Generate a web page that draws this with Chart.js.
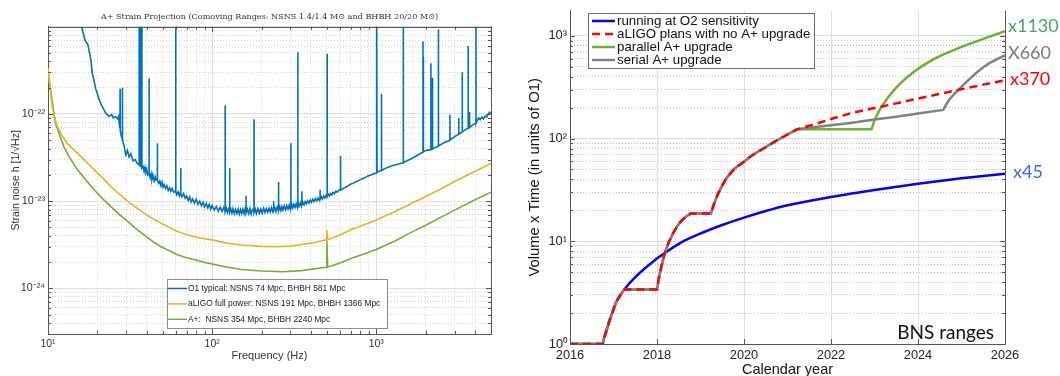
<!DOCTYPE html>
<html>
<head>
<meta charset="utf-8">
<script src="https://cdn.jsdelivr.net/npm/chart.js@4.4.1/dist/chart.umd.min.js"></script>
<style>
  html, body { margin: 0; padding: 0; background: #fff; overflow: hidden; width: 1060px; height: 376px; }
  .wrap { position: absolute; top: 0; }
</style>
</head>
<body>
<div class="wrap" style="left:0"><canvas id="strain" width="510" height="376"></canvas></div>
<div class="wrap" style="left:520px"><canvas id="volume" width="540" height="384"></canvas></div>
<script>
// ---------- left panel: strain noise curves ----------
const strainTitle = 'A+ Strain Projection (Comoving Ranges: NSNS 1.4/1.4 M\u2299 and BHBH 20/20 M\u2299)';
const strainLabels = ['O1 typical: NSNS 74 Mpc, BHBH 581 Mpc',
                      'aLIGO full power: NSNS 191 Mpc, BHBH 1366 Mpc',
                      'A+:  NSNS 354 Mpc, BHBH 2240 Mpc'];

const o1Freq = [
  15.4, 16.0, 16.8, 17.5, 18.0, 18.3, 18.6, 19.0, 19.5, 20.0,
  20.4, 21.0, 21.9, 22.5, 23.5, 24.5, 25.0, 25.8, 26.5, 27.0,
  27.2, 27.45, 27.5, 27.55, 28.0, 28.35, 28.4, 28.45, 29.0, 29.8,
  30.5, 31.2, 32.0, 33.0, 34.0, 35.0, 35.85, 35.9, 35.95, 36.45,
  36.5, 36.55, 37.25, 37.3, 37.35, 38.0, 38.5, 39.0, 39.5, 40.0,
  40.5, 41.25, 41.3, 41.35, 42.0, 42.5, 43.0, 43.5, 44.3, 45.0,
  45.5, 46.35, 46.4, 46.45, 47.2, 48, 48.8, 49.5, 50.3, 51,
  52, 53, 54, 55, 56, 57, 58.3, 59.9, 60, 60.1,
  61, 62, 63.2, 64.35, 64.4, 64.45, 65.5, 67, 68.5, 70,
  71.5, 73, 74.5, 76, 78, 80, 82, 84, 86, 88,
  90, 92, 94, 96, 98, 100, 103, 106, 109, 112,
  115, 117.5, 119.85, 120, 120.15, 122, 124, 126, 127.9, 128,
  128.1, 130, 132, 134, 136.5, 139, 141.5, 144, 146.5, 149,
  151.5, 154, 156.5, 159, 160.9, 161, 161.1, 164, 167, 170,
  173, 176, 179.85, 180, 180.15, 183, 186, 190, 194, 198,
  202, 206, 210, 214, 218, 222, 226, 230, 234, 236.9,
  237, 237.1, 241, 245, 249, 253.8, 254, 254.2, 258, 262,
  266, 270, 275, 280, 285, 290, 295, 299, 301.8, 302,
  302.2, 306, 310, 315, 320, 325, 329, 332.8, 333, 333.2,
  337, 342, 347, 351.8, 352, 352.2, 357, 363, 369, 375,
  382, 389, 396, 403, 410, 418, 426, 434, 442, 449,
  454.8, 455, 455.2, 462, 470, 478, 486, 494, 501.6, 502,
  502.4, 510, 518, 527, 536, 546, 556, 567, 578, 590,
  605.7, 606, 606.3, 620, 640, 665, 692, 720, 750, 780,
  815, 850, 890, 930, 970, 999, 1000, 1001, 1009, 1010,
  1011, 1040, 1075, 1076, 1077, 1150, 1250, 1350, 1455, 1458,
  1462, 1465, 1600, 1750, 1923, 1926, 1929, 1934, 1936, 1938,
  2050, 2147, 2150, 2153, 2197, 2200, 2203, 2387, 2390, 2393,
  2600, 2808, 2810, 2812, 3000, 3180, 3182, 3184, 3337, 3340,
  3343, 3500, 3627, 3630, 3633, 3697, 3700, 3703, 3900, 4047,
  4050, 4053, 4200, 4300, 4400, 4500, 4600, 4700, 4800, 4900,
  5000];
const o1Strain = [
  1.3e-21, 1.0e-21, 7.0e-22, 6.2e-22, 4.8e-22, 4.0e-22, 2.9e-22, 2.5e-22, 1.95e-22, 1.7e-22,
  1.5e-22, 1.3e-22, 1.12e-22, 1.02e-22, 9.4e-23, 9.8e-23, 9.0e-23, 9.3e-23, 8.8e-23, 9.5e-23,
  7.5e-23, 7.0e-23, 1.95e-22, 6.5e-23, 5.5e-23, 5.2e-23, 2.0e-22, 5.0e-23, 4.4e-23, 3.4e-23,
  3.8e-23, 3.2e-23, 3.5e-23, 2.9e-23, 3.0e-23, 2.7e-23, 2.6e-23, 3e-21, 2.6e-23, 2.6e-23,
  3e-21, 2.5e-23, 2.5e-23, 3e-21, 2.4e-23, 2.5e-23, 2.2e-23, 2.45e-23, 2.15e-23, 2.3e-23,
  2.0e-23, 2.1e-23, 2.57e-22, 2.1e-23, 1.85e-23, 2.05e-23, 1.8e-23, 2.0e-23, 1.7e-23, 1.9e-23,
  1.75e-23, 1.8e-23, 4.6e-23, 1.75e-23, 1.6e-23, 1.7e-23, 1.5e-23, 1.65e-23, 1.45e-23, 1.55e-23,
  1.4e-23, 1.5e-23, 1.33e-23, 1.42e-23, 1.3e-23, 1.4e-23, 1.27e-23, 1.3e-23, 3e-21, 1.28e-23,
  1.2e-23, 1.28e-23, 1.15e-23, 1.3e-23, 2.4e-23, 1.2e-23, 1.12e-23, 1.22e-23, 1.08e-23, 1.15e-23,
  1.02e-23, 1.12e-23, 9.8e-24, 1.06e-23, 9.5e-24, 1.05e-23, 9.2e-24, 1.0e-23, 8.9e-24, 9.7e-24,
  8.6e-24, 9.4e-24, 8.4e-24, 9.2e-24, 8.1e-24, 8.9e-24, 7.9e-24, 8.7e-24, 7.7e-24, 8.5e-24,
  7.6e-24, 8.4e-24, 7.8e-24, 1.26e-22, 7.6e-24, 8.3e-24, 7.4e-24, 8.2e-24, 7.8e-24, 2.4e-23,
  7.5e-24, 8.1e-24, 7.3e-24, 8.2e-24, 7.2e-24, 8.0e-24, 7.2e-24, 8.1e-24, 7.1e-24, 8.0e-24,
  7.2e-24, 8.1e-24, 7.2e-24, 8.2e-24, 7.6e-24, 1.15e-23, 7.3e-24, 8.1e-24, 7.2e-24, 8.2e-24,
  7.1e-24, 8.0e-24, 7.6e-24, 8.7e-23, 7.4e-24, 8.1e-24, 7.2e-24, 8.2e-24, 7.3e-24, 8.1e-24,
  7.3e-24, 8.3e-24, 7.4e-24, 8.2e-24, 7.5e-24, 8.3e-24, 7.5e-24, 8.4e-24, 7.6e-24, 8.0e-24,
  1.0e-23, 7.8e-24, 8.4e-24, 7.6e-24, 8.5e-24, 7.8e-24, 1.66e-23, 7.8e-24, 8.6e-24, 7.8e-24,
  8.7e-24, 7.9e-24, 8.8e-24, 8.0e-24, 8.9e-24, 8.1e-24, 9.0e-24, 8.2e-24, 8.4e-24, 4.6e-23,
  8.3e-24, 9.1e-24, 8.4e-24, 9.2e-24, 8.5e-24, 9.3e-24, 8.6e-24, 8.8e-24, 5.1e-22, 8.7e-24,
  9.4e-24, 8.8e-24, 9.6e-24, 9.0e-24, 1.3e-23, 9.0e-24, 9.7e-24, 9.1e-24, 9.9e-24, 9.3e-24,
  1.01e-23, 9.5e-24, 1.03e-23, 9.7e-24, 1.05e-23, 9.9e-24, 1.07e-23, 1.01e-23, 1.09e-23, 1.03e-23,
  1.06e-23, 1.35e-23, 1.05e-23, 1.12e-23, 1.06e-23, 1.14e-23, 1.09e-23, 1.16e-23, 1.12e-23, 4.9e-22,
  1.13e-23, 1.2e-23, 1.15e-23, 1.22e-23, 1.18e-23, 1.26e-23, 1.22e-23, 1.3e-23, 1.27e-23, 1.34e-23,
  1.33e-23, 3.3e-23, 1.35e-23, 1.38e-23, 1.42e-23, 1.48e-23, 1.55e-23, 1.6e-23, 1.67e-23, 1.72e-23,
  1.8e-23, 1.85e-23, 1.95e-23, 2.0e-23, 2.07e-23, 2.1e-23, 3e-21, 2.12e-23, 2.15e-23, 3e-21,
  2.15e-23, 2.2e-23, 2.25e-23, 1.7e-22, 2.25e-23, 2.4e-23, 2.55e-23, 2.65e-23, 2.75e-23, 3e-21,
  3e-21, 2.78e-23, 3.0e-23, 3.3e-23, 3.65e-23, 6.8e-22, 3.7e-23, 3.7e-23, 4.5e-22, 3.7e-23,
  3.85e-23, 3.9e-23, 3.8e-22, 3.9e-23, 3.95e-23, 2.6e-22, 4.0e-23, 4.25e-23, 9.3e-22, 4.3e-23,
  4.7e-23, 5.0e-23, 9.8e-23, 5.0e-23, 5.5e-23, 5.85e-23, 9.0e-23, 5.9e-23, 6.2e-23, 3.0e-22,
  6.2e-23, 6.6e-23, 6.9e-23, 6.0e-22, 6.9e-23, 7.0e-23, 1.05e-22, 7.0e-23, 7.6e-23, 7.8e-23,
  3e-21, 7.8e-23, 9.0e-23, 8.6e-23, 9.2e-23, 8.8e-23, 9.5e-23, 9.2e-23, 9.8e-23, 1.05e-22,
  1.02e-22];

const aligoFreq = [10, 10.3, 10.6, 11.0, 11.4, 12.2, 13.1, 15.1, 17, 19.1, 21.5, 24.1, 27, 30.5, 34, 38.5, 43, 48.7, 55, 61.4,
  70, 77.6, 90, 100, 118, 150, 200, 240, 300, 400, 495, 500, 505, 600, 700, 850, 1000, 1300, 1600, 2000, 2500, 3000, 4000, 5000];
const aligoStrain = [3.33e-22, 2.0e-22, 1.2e-22, 9.0e-23, 7.2e-23, 5.6e-23, 4.6e-23, 3.55e-23, 2.85e-23, 2.3e-23, 1.85e-23, 1.48e-23, 1.22e-23, 1.0e-23, 8.6e-24, 7.3e-24, 6.4e-24, 5.6e-24, 5.0e-24, 4.5e-24,
  4.15e-24, 3.9e-24, 3.7e-24, 3.6e-24, 3.35e-24, 3.15e-24, 3.03e-24, 3.0e-24, 3.05e-24, 3.3e-24, 3.6e-24, 4.7e-24, 3.6e-24, 4.1e-24, 4.7e-24, 5.4e-24, 6.1e-24, 7.6e-24, 9.2e-24, 1.13e-23, 1.4e-23, 1.68e-23, 2.2e-23, 2.7e-23];

const aplusFreq = [10, 10.25, 10.5, 11.1, 12.5, 13.5, 15.1, 17, 19.1, 21.5, 24.1, 27, 30.5, 34, 38.5, 43, 48.7, 55, 61.4, 70,
  77.6, 90, 100, 118, 150, 200, 270, 350, 495, 500, 505, 600, 700, 850, 1000, 1300, 1600, 2000, 2500, 3000, 4000, 5000];
const aplusStrain = [3.33e-22, 2.2e-22, 1.58e-22, 7.8e-23, 4.2e-23, 3.2e-23, 2.3e-23, 1.75e-23, 1.35e-23, 1.07e-23, 8.7e-24, 7.1e-24, 5.9e-24, 4.9e-24, 4.1e-24, 3.5e-24, 3.0e-24, 2.7e-24, 2.43e-24, 2.25e-24,
  2.14e-24, 1.98e-24, 1.9e-24, 1.78e-24, 1.65e-24, 1.58e-24, 1.55e-24, 1.6e-24, 1.75e-24, 3.5e-24, 1.75e-24, 1.95e-24, 2.2e-24, 2.5e-24, 2.8e-24, 3.5e-24, 4.3e-24, 5.3e-24, 6.6e-24, 7.9e-24, 1.04e-23, 1.27e-23];

// ---------- right panel: accumulated volume x time ----------
const upgradeLabels = ['running at O2 sensitivity', 'aLIGO plans with no A+ upgrade', 'parallel A+ upgrade', 'serial A+ upgrade'];
const endLabels = ['x45', 'x370', 'x1130', 'X660'];

const o2Years = [2016, 2016.75, 2016.79, 2016.84, 2016.9, 2016.96, 2017.07, 2017.16, 2017.25, 2017.53, 2017.92, 2018.22, 2018.57,
  2019, 2019.5, 2020, 2020.5, 2021, 2022, 2023, 2024, 2025, 2026];
const o2Values = [1, 1, 1.17, 1.36, 1.65, 1.95, 2.6, 3.0, 3.4, 4.6, 6.4, 7.9, 9.8,
  11.9, 14.4, 17, 19.7, 22.4, 27, 31.6, 36.3, 41, 45.5];

// common history up to mid 2021 (shared by the three plan curves)
const planYears = [2016, 2016.75, 2016.79, 2016.84, 2016.9, 2016.96, 2017.07, 2017.16, 2017.25, 2018.0, 2018.04, 2018.09, 2018.15,
  2018.21, 2018.29, 2018.37, 2018.47, 2018.57, 2018.67, 2018.77, 2019.24, 2019.3, 2019.4, 2019.5, 2019.6, 2019.79, 2020.0,
  2020.15, 2020.31, 2020.47, 2020.62, 2020.78, 2020.94, 2021.08, 2021.22];
const planValues = [1, 1, 1.17, 1.36, 1.65, 1.95, 2.6, 3.0, 3.4, 3.4, 4.3, 5.4, 6.9,
  8.4, 10.2, 12, 14.1, 16, 17.4, 18.6, 18.6, 22.5, 28.8, 35, 41.4, 51.4, 59.5,
  67, 74, 81, 88.7, 97, 106, 114.5, 123];

const noUpgradeYears = [2021.6, 2022, 2022.44, 2023, 2023.5, 2024, 2024.5, 2025, 2025.5, 2026];
const noUpgradeValues = [137, 155, 176, 198, 220, 245, 272, 302, 335, 370];

const parallelYears = [2022.93, 2023.0, 2023.1, 2023.2, 2023.3, 2023.4, 2023.5, 2023.6, 2023.75, 2023.9,
  2024.1, 2024.35, 2024.6, 2024.9, 2025.2, 2025.5, 2025.75, 2026];
const parallelValues = [123, 150, 185, 215, 248, 280, 313, 347, 395, 445,
  510, 590, 665, 750, 840, 935, 1020, 1110];

const serialYears = [2022, 2022.44, 2023, 2023.5, 2024, 2024.58, 2024.64, 2024.72, 2024.82, 2024.97,
  2025.15, 2025.35, 2025.5, 2025.66, 2025.83, 2026];
const serialValues = [135, 142, 153, 163, 175, 190, 212, 240, 268, 310,
  368, 440, 495, 548, 598, 645];

// ---------- helpers ----------
const SUP = {'-': '\u207B', '0': '\u2070', '1': '\u00B9', '2': '\u00B2', '3': '\u00B3', '4': '\u2074',
             '5': '\u2075', '6': '\u2076', '7': '\u2077', '8': '\u2078', '9': '\u2079'};
function pow10Label(v) {
  const e = String(Math.round(Math.log10(v)));
  return '10' + e.split('').map(c => SUP[c]).join('');
}
function pts(xs, ys) { return xs.map((x, i) => ({x: x, y: ys[i]})); }
function logTicks(min, max) {
  const out = [];
  for (let e = Math.floor(Math.log10(min)); e <= Math.ceil(Math.log10(max)); e++) {
    for (let m = 1; m <= 9; m++) {
      const v = m * Math.pow(10, e);
      if (v >= min * 0.999 && v <= max * 1.001) out.push({value: v, major: m === 1});
    }
  }
  return out;
}
const isMinor = c => c.tick && c.tick.major === false;

Chart.defaults.font.family = '"Liberation Sans", Arial, Helvetica, sans-serif';
Chart.defaults.color = '#262626';

// inner tick marks + closing box lines (matlab style)
const frame = {
  id: 'frame',
  afterDatasetsDraw(chart, args, o) {
    const {ctx, chartArea: a, scales: {x, y}} = chart;
    ctx.save();
    ctx.strokeStyle = o.color;
    ctx.lineWidth = 1;
    ctx.beginPath();
    x.ticks.forEach(t => {
      const p = Math.round(x.getPixelForValue(t.value)) + 0.5;
      const len = t.major === false ? o.minor : o.major;
      ctx.moveTo(p, a.bottom); ctx.lineTo(p, a.bottom - len);
      if (o.top) { ctx.moveTo(p, a.top); ctx.lineTo(p, a.top + len); }
    });
    y.ticks.forEach(t => {
      const p = Math.round(y.getPixelForValue(t.value)) + 0.5;
      const len = t.major === false ? o.minor : o.major;
      ctx.moveTo(a.left, p); ctx.lineTo(a.left + len, p);
      ctx.moveTo(a.right, p); ctx.lineTo(a.right - len, p);
    });
    ctx.moveTo(Math.round(a.right) + 0.5, a.top); ctx.lineTo(Math.round(a.right) + 0.5, a.bottom);
    if (o.top) { ctx.moveTo(a.left, Math.round(a.top) + 0.5); ctx.lineTo(a.right, Math.round(a.top) + 0.5); }
    ctx.stroke();
    ctx.restore();
  }
};

const strainLegend = {
  id: 'strainLegend',
  afterDraw(chart) {
    const {ctx, chartArea: a} = chart;
    const x0 = Math.round(a.left + 119), y0 = Math.round(a.bottom - 55), w = 220, h = 49;
    ctx.save();
    ctx.fillStyle = '#fff';
    ctx.fillRect(x0, y0, w, h);
    ctx.strokeStyle = '#8c8c8c';
    ctx.lineWidth = 1;
    ctx.strokeRect(x0 + 0.5, y0 + 0.5, w, h);
    ctx.font = '8.4px "Liberation Sans", Arial, sans-serif';
    ctx.textBaseline = 'middle';
    chart.data.datasets.forEach((d, i) => {
      const yy = y0 + 9.5 + i * 15.4;
      ctx.strokeStyle = d.borderColor;
      ctx.lineWidth = 1.5;
      ctx.beginPath(); ctx.moveTo(x0 + 1, yy); ctx.lineTo(x0 + 20, yy); ctx.stroke();
      ctx.fillStyle = '#1a1a1a';
      ctx.fillText(d.label, x0 + 21, yy);
    });
    ctx.restore();
  }
};

new Chart(document.getElementById('strain'), {
  type: 'line',
  data: {
    datasets: [
      {label: strainLabels[0], data: pts(o1Freq, o1Strain), borderColor: '#0072bd', borderWidth: 1.6},
      {label: strainLabels[1], data: pts(aligoFreq, aligoStrain), borderColor: '#edb120', borderWidth: 1.6},
      {label: strainLabels[2], data: pts(aplusFreq, aplusStrain), borderColor: '#77ac30', borderWidth: 1.6}
    ]
  },
  options: {
    responsive: false,
    animation: false,
    layout: {padding: {right: 19}},
    elements: {point: {radius: 0}, line: {tension: 0}},
    plugins: {
      legend: {display: false},
      tooltip: {enabled: false},
      title: {display: true, text: strainTitle, fullSize: false, color: '#333',
              font: {family: '"DejaVu Serif", "Liberation Serif", serif', size: 8.1, weight: 'normal'},
              padding: {top: 12, bottom: 5}},
      frame: {color: '#555', major: 5, minor: 3, top: true}
    },
    scales: {
      x: {
        type: 'logarithmic', min: 10, max: 5000,
        afterBuildTicks: s => { s.ticks = logTicks(10, 5000); },
        afterFit: s => { s.height = 42; },
        ticks: {autoSkip: false, maxRotation: 0, padding: 4, font: {size: 10.5}, color: '#333',
                callback: (v, i, t) => t[i].major ? pow10Label(v) : ''},
        grid: {drawTicks: false, lineWidth: 1, color: c => isMinor(c) ? '#cfcfcf' : '#dedede'},
        border: {color: '#555', dash: c => isMinor(c) ? [1, 2] : []},
        title: {display: true, text: 'Frequency (Hz)', font: {size: 11}, color: '#333', padding: {bottom: 13}}
      },
      y: {
        type: 'logarithmic', min: 3e-25, max: 1e-21,
        afterBuildTicks: s => { s.ticks = logTicks(3e-25, 1e-21); },
        afterFit: s => { s.width = 48; },
        ticks: {autoSkip: false, padding: 3, font: {size: 10.8}, color: '#333',
                callback: (v, i, t) => (t[i].major && i < t.length - 1) ? pow10Label(v) : ''},
        grid: {drawTicks: false, lineWidth: 1, color: c => isMinor(c) ? '#cfcfcf' : '#dedede'},
        border: {color: '#555', dash: c => isMinor(c) ? [1, 2] : []},
        title: {display: true, text: 'Strain noise h [1/\u221AHz]', font: {size: 10.5}, color: '#333', padding: {top: 10}}
      }
    }
  },
  plugins: [frame, strainLegend]
});

// ---------- right panel ----------
const endLabelColors = ['#3a66ff', '#ff0000', '#43a866', '#7a7a7a'];
const endLabelShift = [[8, -2], [5, -1], [3, -5], [3, -2]];

const volumeLegend = {
  id: 'volumeLegend',
  afterDraw(chart) {
    const {ctx, chartArea: a} = chart;
    const x0 = Math.round(a.left + 18), y0 = 13, w = 226, h = 55;
    ctx.save();
    ctx.fillStyle = '#fff';
    ctx.fillRect(x0, y0, w, h);
    ctx.strokeStyle = '#666';
    ctx.lineWidth = 1;
    ctx.strokeRect(x0 + 0.5, y0 + 0.5, w, h);
    ctx.font = '13.3px "Liberation Sans", Arial, sans-serif';
    ctx.textBaseline = 'middle';
    upgradeLabels.forEach((lab, i) => {
      const d = chart.data.datasets[i];
      const yy = y0 + 8 + i * 13;
      ctx.strokeStyle = d.borderColor;
      ctx.lineWidth = d.borderWidth;
      ctx.setLineDash(d.borderDash || []);
      ctx.beginPath(); ctx.moveTo(x0 + 4, yy); ctx.lineTo(x0 + 27, yy); ctx.stroke();
      ctx.setLineDash([]);
      ctx.fillStyle = '#111';
      ctx.fillText(lab, x0 + 29, yy);
    });
    ctx.restore();
  }
};

const endNotes = {
  id: 'endNotes',
  afterDraw(chart) {
    const {ctx, chartArea: a, scales: {y}} = chart;
    ctx.save();
    ctx.textBaseline = 'middle';
    ctx.font = '18px Lato, "Open Sans", sans-serif';
    chart.data.datasets.forEach((d, i) => {
      const last = d.data[d.data.length - 1];
      ctx.fillStyle = endLabelColors[i];
      ctx.fillText(endLabels[i], a.right + endLabelShift[i][0], y.getPixelForValue(last.y) + endLabelShift[i][1]);
    });
    ctx.font = '19px Lato, "Open Sans", sans-serif';
    ctx.fillStyle = '#111';
    ctx.textAlign = 'right';
    ctx.fillText('BNS ranges', a.right - 11, a.bottom - 11);
    ctx.restore();
  }
};

new Chart(document.getElementById('volume'), {
  type: 'line',
  data: {
    datasets: [
      {label: upgradeLabels[0], data: pts(o2Years, o2Values), borderColor: '#0000ff', borderWidth: 2.5,
       cubicInterpolationMode: 'monotone', order: 4},
      {label: upgradeLabels[1], data: pts(planYears.concat(noUpgradeYears), planValues.concat(noUpgradeValues)),
       borderColor: '#ff0000', borderWidth: 2.5, borderDash: [8, 5], order: 1},
      {label: upgradeLabels[2], data: pts(planYears.concat(parallelYears), planValues.concat(parallelValues)),
       borderColor: '#6ab42d', borderWidth: 2.5, order: 3},
      {label: upgradeLabels[3], data: pts(planYears.concat(serialYears), planValues.concat(serialValues)),
       borderColor: '#808080', borderWidth: 2.5, order: 2}
    ]
  },
  options: {
    responsive: false,
    animation: false,
    layout: {padding: {right: 55}},
    elements: {point: {radius: 0}, line: {tension: 0}},
    plugins: {
      legend: {display: false},
      tooltip: {enabled: false},
      frame: {color: '#555', major: 5, minor: 3, top: false}
    },
    scales: {
      x: {
        type: 'linear', min: 2016, max: 2026,
        ticks: {stepSize: 2, padding: 4, font: {size: 12.8}, color: '#222', maxRotation: 0, callback: v => String(v)},
        afterFit: s => { s.height = 40; },
        grid: {drawTicks: false, color: '#e0e0e0'},
        border: {color: '#555'},
        title: {display: true, text: 'Calendar year', font: {size: 14.5}, color: '#111', padding: {bottom: 5}}
      },
      y: {
        type: 'logarithmic', min: 1, max: 1758,
        afterBuildTicks: s => { s.ticks = logTicks(1, 1758); },
        afterFit: s => { s.width = 50; },
        ticks: {autoSkip: false, padding: 3, font: {size: 12.8}, color: '#222',
                callback: (v, i, t) => t[i].major ? pow10Label(v) : ''},
        grid: {drawTicks: false, color: c => isMinor(c) ? '#bdbdbd' : '#dcdcdc'},
        border: {color: '#555', dash: c => isMinor(c) ? [1, 2] : []},
        title: {display: true, text: 'Volume x Time (in units of O1)', font: {size: 14.8}, color: '#111', padding: {top: 6}}
      }
    }
  },
  plugins: [frame, volumeLegend, endNotes]
});
</script>
</body>
</html>
